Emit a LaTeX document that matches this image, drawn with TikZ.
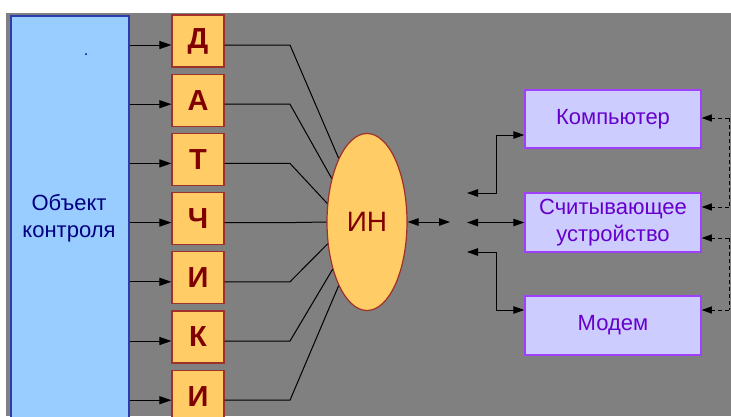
\documentclass[tikz,border=0pt]{standalone}
\usepackage{fontspec}
\setmainfont{Liberation Sans}
\usetikzlibrary{arrows.meta,shapes.geometric,calc}
\definecolor{bg}{HTML}{808080}
\definecolor{objfill}{HTML}{99CCFF}
\definecolor{objline}{HTML}{2B3BB0}
\definecolor{objtext}{HTML}{000080}
\definecolor{sfill}{HTML}{FFCC66}
\definecolor{sline}{HTML}{A0302A}
\definecolor{stext}{HTML}{800000}
\definecolor{rfill}{HTML}{CCCCFF}
\definecolor{rline}{HTML}{A040FF}
\definecolor{rtext}{HTML}{6600CC}
\tikzset{
  objbox/.style={draw=objline, fill=objfill, line width=1.5pt, inner sep=0pt},
  sbox/.style={draw=sline, fill=sfill, line width=1.2pt, minimum width=52, minimum height=52, inner sep=0pt,
    text=stext, font=\fontsize{29}{30}\selectfont\bfseries},
  hubshape/.style={ellipse, draw=sline, fill=sfill, line width=1.2pt, minimum width=80, minimum height=177, inner sep=0pt,
    text=stext, font=\fontsize{28}{30}\selectfont},
  rbox/.style={draw=rline, fill=rfill, line width=1.5pt, minimum width=176, minimum height=58, inner sep=0pt,
    text=rtext, font=\fontsize{22}{27}\selectfont, align=center},
  wire/.style={black, line width=1pt},
  arr/.style={wire, -{Triangle[length=12pt,width=8pt]}},
  both/.style={wire, {Triangle[length=11pt,width=7.5pt]}-{Triangle[length=11pt,width=7.5pt]}},
  dashline/.style={black, line width=1pt, dash pattern=on 4pt off 3pt}
}
\begin{document}
\begin{tikzpicture}[x=1pt,y=-1pt]
\useasboundingbox (0,0) rectangle (731,416);
\fill[white] (0,0) rectangle (731,416);
\fill[bg] (6,13) rectangle (731,416);
\begin{scope}
\clip (0,0) rectangle (731,416);
\node[objbox, minimum width=118, minimum height=415, anchor=north west] (obj) at (10,15) {};
\node[text=objtext, font=\fontsize{22}{27}\selectfont, align=center] (objlabel) at (69,218) {Объект\\контроля};
\fill[objtext] (86,54) circle (1);
\node[hubshape] (hub) at (367,222) {ИН};
\foreach \t/\a [count=\i from 0] in {Д/114,А/129,Т/155,Ч/180,И/209,К/234,И/246} {
  \node[sbox] (s\i) at (198,{41+59.2*\i}) {\t};
  \coordinate (p\i) at (198,{45+59.2*\i});
  \coordinate (k\i) at (290,{45+59.2*\i});
  \draw[arr] (obj.east |- p\i) -- (s\i.west |- p\i);
  \draw[wire] (s\i.east |- p\i) -- (k\i) -- (hub.\a);
}
\node[rbox] (comp) at (613,119) {Компьютер};
\node[rbox, minimum height=59] (read) at (613,222.5) {Считывающее\\устройство};
\node[rbox, minimum height=59] (modem) at (613,325.5) {Модем};
\coordinate (e1) at (450,222);
\draw[both] (hub.east) -- (e1);
\coordinate (r1) at (467,193);
\coordinate (r2) at (467,222.5);
\coordinate (r3) at (467,252);
\coordinate (c1) at (496,135);
\coordinate (c3) at (496,310);
\draw[both] (r1) -| (c1) -- (comp.west |- c1);
\draw[both] (r2) -- (read.west);
\draw[both] (r3) -| (c3) -- (modem.west |- c3);
\coordinate (d1) at (729,118);
\coordinate (d2) at (729,207);
\coordinate (d3) at (729,238);
\coordinate (d4) at (729,310);
\draw[dashline] (d1) -- (d2);
\draw[dashline] (d3) -- (d4);
\draw[dashline, -{Triangle[length=10pt,width=7pt]}] (d1) -- (comp.east |- d1);
\draw[dashline, -{Triangle[length=10pt,width=7pt]}] (d2) -- (read.east |- d2);
\draw[dashline, -{Triangle[length=10pt,width=7pt]}] (d3) -- (read.east |- d3);
\draw[dashline, -{Triangle[length=10pt,width=7pt]}] (d4) -- (modem.east |- d4);
\end{scope}
\end{tikzpicture}
\end{document}
